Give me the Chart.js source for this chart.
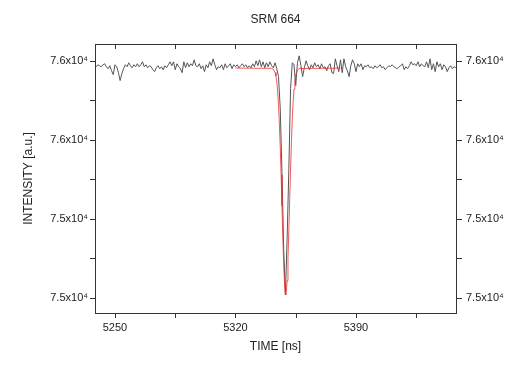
<!DOCTYPE html>
<html>
<head>
<meta charset="utf-8">
<script src="https://cdn.jsdelivr.net/npm/chart.js@4.4.1/dist/chart.umd.min.js"></script>
<style>
html,body{margin:0;padding:0;background:#fff;}
#c{display:block;}
</style>
</head>
<body>
<canvas id="c" width="530" height="375"></canvas>
<script>
const chartTitle = 'SRM 664';
const xTitle = 'TIME [ns]';
const yTitle = 'INTENSITY [a.u.]';

// sampling of the measured trace (ns)
const timeStart = 5238;
const timeStep = 1;
// measured intensity, one value per ns from 5238 to 5448
const intensity = [
  76155,76170,76180,76175,76170,76180,76185,76170,76160,76175,
  76150,76130,76180,76170,76140,76100,76135,76160,76180,76170,
  76190,76175,76165,76180,76170,76185,76170,76180,76195,76170,
  76180,76165,76175,76170,76155,76145,76165,76175,76160,76170,
  76155,76175,76165,76180,76195,76175,76195,76155,76185,76170,
  76160,76140,76195,76165,76190,76170,76185,76175,76205,76175,
  76170,76185,76160,76175,76145,76180,76165,76195,76175,76210,
  76180,76155,76170,76165,76180,76155,76185,76165,76175,76185,
  76160,76180,76170,76180,76165,76175,76185,76170,76180,76165,
  76175,76165,76185,76170,76200,76175,76205,76170,76195,76165,
  76190,76170,76195,76175,76165,76190,
  76160,76120,75960,75640,75250,75015,75300,75650,76060,
  76190,76180,76075,76190,76225,76175,76120,76165,76200,76175,
  76155,76180,76165,76190,76170,76180,76160,76185,76165,76170,
  76150,76175,76185,76140,76135,76210,76175,76145,76205,76140,
  76210,76170,76150,76120,76175,76205,76185,76145,76185,76170,
  76185,76155,76175,76170,76180,76165,76170,76160,76175,76165,
  76170,76180,76165,76170,76155,76165,76175,76170,76180,76170,
  76165,76160,76170,76175,76185,76155,76170,76160,76175,76195,
  76180,76185,76175,76195,76170,76185,76175,76170,76195,76165,
  76210,76155,76185,76145,76195,76170,76185,76155,76180,76170,
  76145,76165,76175,76160,76170,76165
];

// fitted peak (red)
const fitTime  = [5320, 5341, 5342, 5343, 5343.5, 5344, 5344.5, 5345, 5345.5, 5346, 5346.5, 5347, 5347.5, 5348, 5348.5, 5349, 5349.2,
                  5349.5, 5350, 5350.5, 5351, 5351.5, 5352, 5352.5, 5353, 5353.5, 5354, 5354.5, 5355, 5356, 5357, 5381];
const fitValue = [76163, 76162, 76157, 76141, 76123, 76093, 76046, 75977, 75884, 75765, 75622, 75467, 75311, 75174, 75071, 75020, 75015,
                  75026, 75088, 75199, 75342, 75498, 75652, 75790, 75905, 75993, 76057, 76100, 76127, 76153, 76161, 76163];

const xTickValues = [5250, 5320, 5390];
const xTickLabels = ['5250', '5320', '5390'];
const xMinorTicks = [5285, 5355, 5425];
const yTickValues = [76200, 75800, 75400, 75000];
const yTickLabels = ['7.6x10\u2074', '7.6x10\u2074', '7.5x10\u2074', '7.5x10\u2074'];
const yMinorTicks = [76000, 75600, 75200];

const xRange = [5238.4, 5448.1];
const yRange = [74924, 76285];

Chart.defaults.font.family = "'Liberation Sans', Arial, Helvetica, sans-serif";
Chart.defaults.color = '#222';

const traceData = intensity.map((v, i) => ({x: timeStart + i * timeStep, y: v}));
const fitData = fitTime.map((t, i) => ({x: t, y: fitValue[i]}));

const frameTicks = {
  id: 'frameTicks',
  afterDatasetsDraw(chart) {
    const {ctx, chartArea, scales} = chart;
    const L = Math.round(chartArea.left), R = Math.round(chartArea.right);
    const T = Math.round(chartArea.top), B = Math.round(chartArea.bottom);
    ctx.save();
    ctx.strokeStyle = '#333';
    ctx.lineWidth = 1;
    ctx.strokeRect(L + 0.5, T + 0.5, R - L, B - T);
    ctx.beginPath();
    [...xTickValues, ...xMinorTicks].forEach(v => {
      const px = Math.round(scales.x.getPixelForValue(v)) + 0.5;
      ctx.moveTo(px, B); ctx.lineTo(px, B + 5);
      ctx.moveTo(px, T); ctx.lineTo(px, T + 5);
    });
    [...yTickValues, ...yMinorTicks].forEach(v => {
      const py = Math.round(scales.y.getPixelForValue(v)) + 0.5;
      ctx.moveTo(L - 5, py); ctx.lineTo(L, py);
      ctx.moveTo(R + 1, py); ctx.lineTo(R + 6, py);
    });
    ctx.stroke();
    ctx.fillStyle = '#222';
    ctx.font = "12px 'Liberation Sans', Arial, sans-serif";
    ctx.textAlign = 'center';
    ctx.textBaseline = 'middle';
    ctx.fillText(chartTitle, (chartArea.left + chartArea.right) / 2, 20);
    ctx.restore();
  }
};

const noGrid = {display: false, drawTicks: false};

new Chart(document.getElementById('c'), {
  type: 'line',
  data: {
    datasets: [
      {label: 'fit', data: fitData, borderColor: 'rgba(240,45,45,0.8)', borderWidth: 1, pointRadius: 0, tension: 0, order: 0},
      {label: 'data', data: traceData, borderColor: '#555555', borderWidth: 1, pointRadius: 0, tension: 0, order: 1}
    ]
  },
  options: {
    responsive: false,
    animation: false,
    devicePixelRatio: 1,
    layout: {padding: 0},
    plugins: {legend: {display: false}, tooltip: {enabled: false}, title: {display: false}},
    scales: {
      x: {
        type: 'linear', position: 'bottom', min: xRange[0], max: xRange[1],
        afterBuildTicks: s => { s.ticks = xTickValues.map(v => ({value: v})); },
        ticks: {callback: (v, i) => xTickLabels[i], font: {size: 11}, color: '#222', padding: 8, maxRotation: 0, autoSkip: false},
        grid: noGrid, border: {display: false},
        title: {display: true, text: xTitle, font: {size: 12}, color: '#222', padding: {top: 0, bottom: 21}},
        afterFit: s => { s.height = 62; }
      },
      xTop: {
        type: 'linear', position: 'top', min: xRange[0], max: xRange[1],
        ticks: {display: false}, grid: noGrid, border: {display: false},
        afterFit: s => { s.height = 44; }
      },
      y: {
        type: 'linear', position: 'left', min: yRange[0], max: yRange[1],
        afterBuildTicks: s => { s.ticks = yTickValues.map(v => ({value: v})); },
        ticks: {callback: (v, i) => yTickLabels[i], font: {size: 11}, color: '#222', padding: 7, autoSkip: false},
        grid: noGrid, border: {display: false},
        title: {display: true, text: yTitle, font: {size: 12}, color: '#222', padding: {top: 21, bottom: 0}},
        afterFit: s => { s.width = 95; }
      },
      yRight: {
        type: 'linear', position: 'right', min: yRange[0], max: yRange[1],
        afterBuildTicks: s => { s.ticks = yTickValues.map(v => ({value: v})); },
        ticks: {callback: (v, i) => yTickLabels[i], font: {size: 11}, color: '#222', padding: 10, autoSkip: false},
        grid: noGrid, border: {display: false},
        afterFit: s => { s.width = 74; }
      }
    }
  },
  plugins: [frameTicks]
});
</script>
</body>
</html>
